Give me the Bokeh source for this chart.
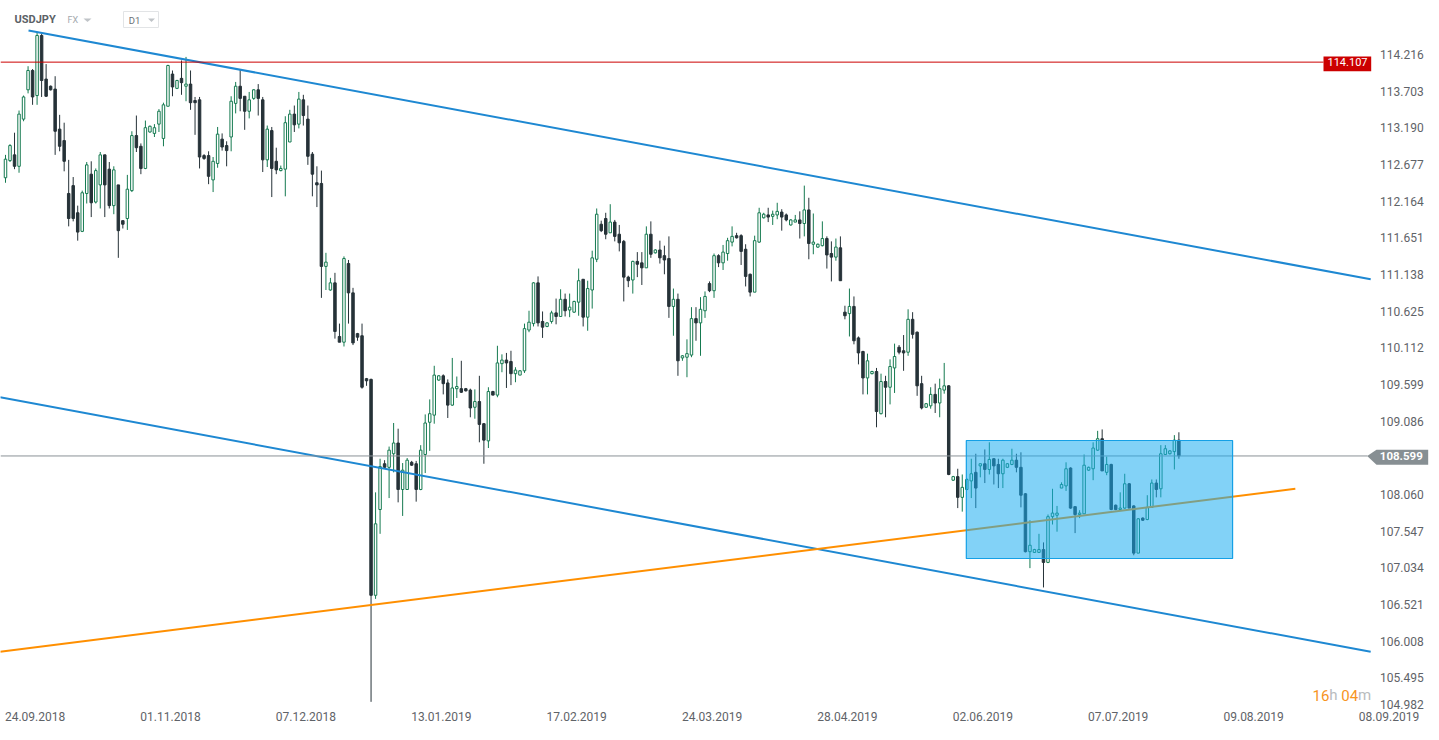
from bokeh.plotting import figure
from bokeh.models import Range1d, Label, ColumnDataSource
from bokeh.core.properties import value
from bokeh.embed import file_html
from bokeh.resources import INLINE

# ---------------- data (USDJPY, D1) ----------------
opens = [
    112.49, 112.73, 112.81, 112.65, 113.31, 113.72, 113.99, 113.64, 114.48, 113.87,
    113.77, 113.73, 113.17, 113.01, 112.27, 112.38, 112.00, 111.74, 112.27, 112.54,
    112.15, 112.39, 112.81, 112.61, 112.10, 112.39, 111.89, 111.92, 112.31, 113.08,
    112.93, 112.62, 113.13, 113.11, 113.24, 113.04, 113.49, 113.94, 113.74, 113.88,
    113.77, 113.80, 113.57, 113.58, 112.80, 112.80, 112.46, 112.69, 113.03, 112.94,
    113.06, 113.53, 113.77, 113.63, 113.42, 113.60, 113.72, 113.58, 112.74, 113.15,
    112.72, 112.59, 112.61, 112.99, 113.38, 113.24, 113.58, 113.31, 112.82, 112.42,
    112.41, 111.25, 110.92, 111.02, 110.27, 110.19, 111.29, 110.88, 110.31, 110.28,
    109.68, 109.67, 106.65, 107.85, 108.49, 108.44, 108.63, 108.78, 108.13, 108.13,
    108.51, 108.49, 108.13, 108.62, 109.07, 109.17, 109.66, 109.72, 109.62, 109.31,
    109.54, 109.54, 109.54, 109.52, 109.28, 109.36, 109.05, 108.81, 109.50, 109.45,
    109.89, 109.94, 109.92, 109.75, 109.73, 109.79, 110.36, 110.45, 111.02, 110.48,
    110.41, 110.48, 110.60, 110.55, 110.79, 110.64, 110.61, 110.75, 111.07, 110.54,
    110.92, 111.35, 111.84, 111.92, 111.72, 111.87, 111.70, 111.60, 111.10, 111.06,
    111.32, 111.30, 111.23, 111.70, 111.44, 111.48, 111.40, 111.36, 110.69, 110.79,
    109.97, 109.98, 110.01, 110.52, 110.46, 110.63, 111.01, 110.91, 111.40, 111.30,
    111.43, 111.59, 111.68, 111.68, 111.49, 111.14, 110.89, 111.59, 111.93, 111.97,
    111.95, 111.97, 112.01, 111.97, 111.83, 111.87, 111.90, 111.85, 112.04, 111.56,
    111.52, 111.54, 111.64, 111.43, 111.38, 111.51, 110.61, 110.59, 110.69, 110.25,
    110.06, 109.69, 109.75, 109.78, 109.19, 109.64, 109.56, 109.83, 110.12, 110.07,
    110.05, 110.51, 110.33, 109.61, 109.28, 109.30, 109.46, 109.34, 109.52, 109.58,
    108.26, 108.31, 108.02, 108.13, 108.25, 108.37, 108.46, 108.49, 108.41, 108.56,
    108.48, 108.35, 108.44, 108.48, 108.54, 108.44, 108.07, 107.26, 107.25, 107.25,
    107.29, 107.11, 107.75, 107.77, 108.15, 108.18, 108.43, 107.89, 107.78, 107.79,
    108.40, 108.42, 108.68, 108.84, 108.37, 108.48, 107.91, 107.85, 107.87, 108.21,
    107.90, 107.24, 107.73, 107.71, 107.88, 108.22, 108.14, 108.62, 108.63, 108.66, 108.82,
]
highs = [
    112.81, 112.96, 113.12, 113.43, 113.64, 114.05, 114.01, 114.53, 114.50, 114.08,
    113.78, 113.91, 113.37, 113.26, 112.74, 112.50, 112.10, 112.31, 112.71, 112.72,
    112.62, 112.85, 112.81, 112.71, 112.65, 112.39, 111.89, 112.53, 113.14, 113.36,
    112.97, 113.29, 113.22, 113.24, 113.45, 113.54, 114.07, 113.99, 113.86, 114.13,
    114.18, 113.99, 113.62, 113.62, 112.82, 112.86, 112.78, 113.20, 113.11, 113.00,
    113.63, 113.83, 114.01, 113.63, 113.69, 113.73, 113.80, 113.62, 113.22, 113.20,
    112.91, 112.66, 113.35, 113.44, 113.50, 113.69, 113.65, 113.50, 112.85, 112.65,
    112.59, 111.44, 111.09, 111.16, 110.45, 111.39, 111.34, 110.95, 110.32, 110.45,
    109.69, 109.68, 108.09, 108.56, 108.54, 108.73, 109.06, 108.98, 108.50, 108.57,
    108.53, 108.53, 108.75, 109.18, 109.39, 109.86, 109.73, 109.74, 109.67, 109.97,
    109.71, 109.93, 109.55, 109.54, 109.53, 109.72, 109.06, 109.56, 109.51, 110.14,
    110.02, 110.04, 110.07, 109.84, 109.80, 110.45, 110.63, 111.03, 111.11, 110.62,
    110.47, 110.63, 110.80, 110.93, 110.87, 110.87, 110.77, 111.22, 111.07, 111.05,
    111.47, 112.06, 111.89, 112.00, 112.12, 111.90, 111.83, 111.62, 111.12, 111.33,
    111.45, 111.45, 111.81, 111.88, 111.49, 111.61, 111.54, 111.67, 110.94, 110.87,
    110.01, 110.23, 110.68, 110.68, 110.82, 110.90, 111.04, 111.43, 111.42, 111.55,
    111.65, 111.81, 111.72, 111.70, 111.56, 111.15, 111.68, 112.07, 112.00, 112.07,
    112.03, 112.14, 112.05, 111.99, 111.91, 111.97, 112.02, 112.38, 112.21, 111.99,
    111.57, 111.88, 111.67, 111.60, 111.64, 111.67, 110.70, 110.94, 110.83, 110.27,
    110.07, 110.03, 109.79, 109.83, 109.75, 109.72, 109.95, 110.17, 110.15, 110.29,
    110.65, 110.61, 110.34, 109.72, 109.34, 109.56, 109.61, 109.68, 109.90, 109.59,
    108.32, 108.42, 108.34, 108.29, 108.56, 108.63, 108.49, 108.69, 108.79, 108.57,
    108.56, 108.56, 108.50, 108.70, 108.63, 108.65, 108.08, 107.70, 107.30, 107.51,
    107.39, 107.78, 108.14, 107.90, 108.23, 108.51, 108.44, 107.89, 107.84, 108.62,
    108.45, 108.79, 108.95, 108.97, 108.59, 108.49, 107.92, 108.09, 108.35, 108.22,
    107.91, 107.73, 107.74, 108.05, 108.27, 108.27, 108.75, 108.75, 108.68, 108.89, 108.93,
]
lows = [
    112.42, 112.71, 112.61, 112.56, 113.28, 113.67, 113.51, 113.51, 113.62, 113.62,
    113.71, 112.81, 112.86, 112.58, 111.81, 111.88, 111.61, 111.73, 112.13, 111.94,
    112.13, 112.06, 111.94, 112.06, 111.98, 111.37, 111.78, 111.76, 112.29, 112.85,
    112.54, 112.61, 113.12, 113.06, 113.13, 112.93, 113.49, 113.63, 113.73, 113.65,
    113.56, 113.44, 113.09, 112.62, 112.74, 112.40, 112.29, 112.63, 112.87, 112.65,
    112.86, 113.39, 113.42, 113.16, 113.32, 113.58, 113.36, 112.57, 112.64, 112.22,
    112.54, 112.58, 112.23, 112.99, 113.13, 113.18, 113.22, 112.67, 112.23, 112.08,
    110.81, 110.92, 110.91, 110.24, 110.19, 110.13, 110.45, 110.15, 110.21, 109.54,
    109.58, 105.16, 106.60, 107.51, 108.42, 108.01, 108.37, 107.95, 107.76, 108.13,
    108.46, 107.96, 108.12, 108.36, 108.67, 109.05, 109.65, 109.46, 109.13, 109.30,
    109.41, 109.48, 109.50, 109.14, 109.12, 108.79, 108.49, 108.71, 109.45, 109.42,
    109.77, 109.55, 109.59, 109.63, 109.73, 109.76, 110.33, 110.41, 110.41, 110.25,
    110.40, 110.45, 110.44, 110.55, 110.55, 110.54, 110.60, 110.56, 110.41, 110.35,
    110.66, 111.31, 111.73, 111.63, 111.72, 111.60, 111.46, 110.76, 110.96, 110.87,
    111.10, 110.99, 111.23, 111.37, 111.43, 111.29, 111.14, 110.53, 110.28, 109.72,
    109.93, 109.70, 109.98, 110.21, 110.00, 110.53, 110.89, 110.81, 111.24, 111.20,
    111.33, 111.53, 111.64, 111.27, 110.97, 110.83, 110.89, 111.58, 111.92, 111.87,
    111.83, 111.91, 111.75, 111.88, 111.82, 111.87, 111.64, 111.67, 111.35, 111.42,
    111.51, 111.53, 111.22, 111.04, 111.33, 111.05, 110.51, 110.27, 110.16, 109.88,
    109.46, 109.46, 109.74, 109.00, 109.18, 109.14, 109.32, 109.48, 110.02, 109.79,
    110.00, 110.24, 109.44, 109.25, 109.27, 109.26, 109.20, 109.14, 109.47, 108.33,
    108.25, 107.87, 107.82, 108.12, 108.01, 107.87, 108.30, 108.22, 108.34, 108.20,
    108.15, 108.15, 108.43, 108.47, 108.37, 107.88, 107.25, 107.03, 107.25, 107.25,
    106.76, 107.10, 107.64, 107.54, 108.15, 108.11, 107.86, 107.52, 107.73, 107.79,
    108.39, 108.26, 108.67, 108.39, 108.33, 107.84, 107.84, 107.84, 107.86, 107.87,
    107.21, 107.24, 107.69, 107.70, 107.88, 108.02, 108.02, 108.62, 108.62, 108.41, 108.56,
]
closes = [
    112.75, 112.94, 112.65, 113.38, 113.62, 113.99, 113.62, 114.48, 113.85, 113.63,
    113.72, 113.14, 112.93, 112.72, 111.92, 111.92, 111.73, 112.28, 112.67, 112.14,
    112.59, 112.81, 112.39, 112.10, 112.60, 111.75, 111.84, 112.33, 113.08, 112.91,
    112.62, 113.19, 113.21, 113.19, 113.42, 113.51, 114.06, 113.76, 113.85, 113.82,
    113.80, 113.54, 113.54, 112.78, 112.76, 112.51, 112.72, 113.10, 112.92, 112.87,
    113.56, 113.77, 113.60, 113.42, 113.58, 113.72, 113.60, 112.74, 113.17, 112.62,
    112.60, 112.62, 113.26, 113.38, 113.23, 113.59, 113.36, 112.79, 112.54, 112.39,
    111.25, 111.31, 111.02, 110.34, 110.19, 111.36, 110.88, 110.18, 110.26, 109.56,
    109.65, 106.65, 107.65, 108.45, 108.44, 108.68, 108.78, 108.13, 108.40, 108.54,
    108.47, 108.13, 108.68, 109.06, 109.19, 109.73, 109.72, 109.61, 109.31, 109.55,
    109.57, 109.49, 109.51, 109.27, 109.36, 109.04, 108.82, 109.50, 109.45, 109.90,
    109.94, 109.90, 109.75, 109.80, 109.79, 110.38, 110.47, 111.02, 110.46, 110.40,
    110.46, 110.60, 110.55, 110.79, 110.63, 110.68, 110.76, 111.05, 110.54, 110.94,
    111.37, 111.98, 111.75, 111.70, 111.87, 111.67, 111.58, 111.10, 111.05, 111.32,
    111.28, 111.23, 111.70, 111.42, 111.48, 111.37, 111.34, 110.69, 110.79, 109.93,
    110.00, 110.03, 110.52, 110.46, 110.65, 110.83, 110.91, 111.40, 111.30, 111.45,
    111.61, 111.67, 111.65, 111.46, 111.11, 110.89, 111.61, 112.00, 111.98, 111.94,
    111.98, 112.02, 111.94, 111.90, 111.90, 111.90, 111.85, 112.04, 111.57, 111.59,
    111.56, 111.64, 111.41, 111.38, 111.52, 111.05, 110.56, 110.69, 110.21, 110.04,
    109.69, 109.93, 109.78, 109.22, 109.64, 109.56, 109.85, 109.99, 110.05, 110.04,
    110.51, 110.30, 109.58, 109.27, 109.33, 109.46, 109.34, 109.54, 109.58, 108.34,
    108.31, 108.02, 108.16, 108.27, 108.35, 108.15, 108.49, 108.41, 108.55, 108.46,
    108.35, 108.54, 108.49, 108.54, 108.44, 108.05, 107.26, 107.35, 107.29, 107.29,
    107.11, 107.75, 107.80, 107.80, 108.20, 108.42, 107.87, 107.78, 107.80, 108.47,
    108.44, 108.71, 108.84, 108.39, 108.48, 107.85, 107.85, 107.87, 108.21, 107.87,
    107.24, 107.72, 107.70, 107.88, 108.22, 108.13, 108.63, 108.70, 108.67, 108.82, 108.60,
]

date_labels = ["24.09.2018", "01.11.2018", "07.12.2018", "13.01.2019", "17.02.2019",
               "24.03.2019", "28.04.2019", "02.06.2019", "07.07.2019", "09.08.2019",
               "08.09.2019"]
price_ticks = [104.982, 105.495, 106.008, 106.521, 107.034, 107.547, 108.060,
               109.086, 109.599, 110.112, 110.625, 111.138, 111.651, 112.164,
               112.677, 113.190, 113.703, 114.216]

# drawn objects (bar index / price)
upper_channel_x = [5.1, 302.5]
upper_channel_y = [114.55, 111.07]
lower_channel_x = [-1.2, 302.5]
lower_channel_y = [109.42, 105.86]
support_x = [-1.2, 285.8]
support_y = [105.86, 108.14]
range_box_x = [212.9, 271.9]
range_box_y = [107.165, 108.815]
level_price = 114.107
last_price = 108.599

# ---------------- layout helpers (pixel -> data) ----------------
X0_PX, DX_PX = 5.0, 4.513          # pixel of bar 0, pixels per bar
P_TOP, PX_PER_UNIT = 114.969, 71.5  # price at pixel y=0, pixels per 1.0 JPY
W, H = 1431, 724


def ix(px):
    return (px - X0_PX) / DX_PX


def pr(py):
    return P_TOP - py / PX_PER_UNIT


p = figure(
    x_range=Range1d(ix(0), ix(W)),
    y_range=Range1d(pr(H), pr(0)),
    width=W, height=H, min_border=0,
    x_axis_location=None, y_axis_location=None,
    output_backend="svg", toolbar_location=None,
    background_fill_color="white", border_fill_color="white",
    outline_line_color=None,
)
p.xgrid.visible = False
p.ygrid.visible = False

AX_COLOR = "#5f6368"
FONT = value("Roboto")

# ---------------- candles ----------------
GREEN, DARK = "#157a50", "#263238"
up = [c >= o for o, c in zip(opens, closes)]
src = ColumnDataSource(dict(
    x=list(range(len(closes))),
    high=highs, low=lows,
    top=[max(o, c) for o, c in zip(opens, closes)],
    bottom=[min(o, c) for o, c in zip(opens, closes)],
    line=[GREEN if u else DARK for u in up],
    fill=["#ffffff" if u else DARK for u in up],
))
p.segment(x0="x", y0="low", x1="x", y1="high", line_color="line", line_width=1, source=src)
p.vbar(x="x", width=0.55, top="top", bottom="bottom", fill_color="fill",
       line_color="line", line_width=1, source=src)

# ---------------- drawings ----------------
BLUE, ORANGE = "#1e88d2", "#ff8f00"
p.line(upper_channel_x, upper_channel_y, line_color=BLUE, line_width=2)
p.line(lower_channel_x, lower_channel_y, line_color=BLUE, line_width=2)
p.line(support_x, support_y, line_color=ORANGE, line_width=2)

# resistance level (red) and last price (gray)
p.line([ix(0), ix(1323)], [level_price, level_price], line_color="#cc0000", line_width=1)
p.line([ix(0), ix(1367)], [last_price, last_price], line_color="#8a9296", line_width=1)

# range box
p.quad(left=range_box_x[0], right=range_box_x[1], bottom=range_box_y[0], top=range_box_y[1],
       fill_color="#18acf0", fill_alpha=0.54, line_color="#14a0e6", line_width=1.2)

# ---------------- price scale (right) ----------------
tick_src = ColumnDataSource(dict(
    x=[ix(1379.5)] * len(price_ticks),
    y=price_ticks,
    text=[f"{t:.3f}" for t in price_ticks],
    dy=[-10 if t == min(price_ticks) else 0 for t in price_ticks],
))
p.text(x="x", y="y", text="text", y_offset="dy", source=tick_src, text_align="left",
       text_baseline="middle", text_color=AX_COLOR, text_font=FONT, text_font_size="12px")

# ---------------- time scale (bottom) ----------------
date_ticks = [6.56 + 30 * k for k in range(len(date_labels))]
p.text(x=date_ticks, y=[pr(716)] * len(date_ticks), text=date_labels, text_align="center",
       text_baseline="middle", text_color=AX_COLOR, text_font=FONT, text_font_size="12px")

# red level tag
p.quad(left=ix(1323), right=ix(1370.7), top=pr(56), bottom=pr(70.7),
       fill_color="#cc0000", line_color=None)
p.add_layout(Label(x=ix(1347), y=level_price, text=f"{level_price:.3f}", text_align="center",
                   text_baseline="middle", text_color="white", text_font="Roboto",
                   text_font_size="11px"))

# gray last-price tag
TAG_GRAY = "#878f93"
p.patch([ix(1366.7), ix(1376), ix(1427.7), ix(1427.7), ix(1376)],
        [last_price, pr(449.3), pr(449.3), pr(464.3), pr(464.3)],
        fill_color=TAG_GRAY, line_color=None)
p.add_layout(Label(x=ix(1379.3), y=last_price, text=f"{last_price:.3f}", text_align="left",
                   text_baseline="middle", text_color="white", text_font="Roboto",
                   text_font_style="bold", text_font_size="11.5px"))

# header
p.add_layout(Label(x=ix(14), y=pr(19.3), text="USDJPY", text_align="left",
                   text_baseline="middle", text_color="#5b6166", text_font="Roboto",
                   text_font_style="bold", text_font_size="11px"))
p.add_layout(Label(x=ix(67), y=pr(19.3), text="FX", text_align="left",
                   text_baseline="middle", text_color="#a3a8ad", text_font="Roboto",
                   text_font_size="9px"))
p.patch([ix(83), ix(91), ix(87)], [pr(18), pr(18), pr(21.5)], fill_color="#c0c4c8", line_color=None)
p.quad(left=ix(123), right=ix(158), top=pr(11), bottom=pr(27), fill_color="white",
       line_color="#e2e4e6", line_width=1)
p.add_layout(Label(x=ix(128.3), y=pr(19.5), text="D1", text_align="left",
                   text_baseline="middle", text_color="#6b7075", text_font="Roboto",
                   text_font_size="9.5px"))
p.patch([ix(147.5), ix(154.5), ix(151)], [pr(18), pr(18), pr(21.5)], fill_color="#c0c4c8", line_color=None)

# countdown
ORANGE_TXT, GRAY_TXT = "#f7941d", "#b9bcbe"
for px, txt, col in [(1312, "16", ORANGE_TXT), (1328.8, "h", GRAY_TXT),
                     (1340.7, "04", ORANGE_TXT), (1357.5, "m", GRAY_TXT)]:
    p.add_layout(Label(x=ix(px), y=pr(694.7), text=txt, text_align="left",
                       text_baseline="middle", text_color=col, text_font="Roboto",
                       text_font_size="15px"))

open("out.html", "w").write(file_html(p, INLINE))
